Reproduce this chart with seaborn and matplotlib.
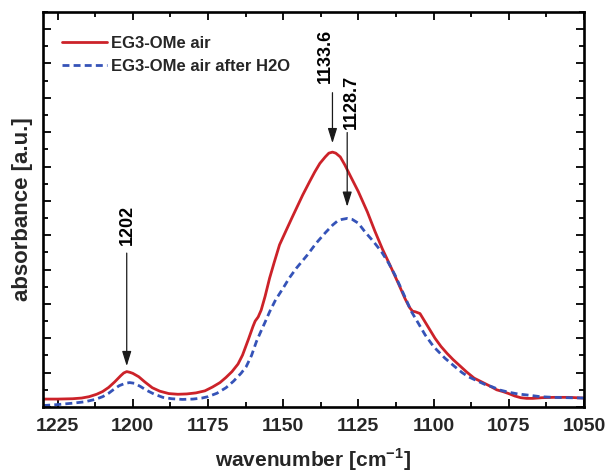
import matplotlib
matplotlib.use("Agg")
import matplotlib.pyplot as plt
from matplotlib.ticker import MultipleLocator, NullFormatter
import pandas as pd
import seaborn as sns

# FTIR spectra of EG3-OMe in air, before and after water exposure
wavenumber_air = [
    1230, 1225, 1220, 1217, 1214.5, 1212, 1210, 1208, 1206, 1204, 1203, 1202,
    1201, 1200, 1198, 1196, 1193.5, 1191, 1188, 1185, 1182, 1179, 1176, 1173.5,
    1171, 1169, 1167, 1165, 1163.5, 1161.5, 1160, 1159.3, 1158.3, 1157.3, 1156,
    1154.5, 1153, 1151.2, 1149, 1147, 1145.6, 1143.5, 1141.2, 1139.5, 1137.8,
    1136, 1134.8, 1133.6, 1132.5, 1131, 1129.5, 1127.5, 1125, 1122, 1119.5,
    1117, 1114, 1111.5, 1109.5, 1108, 1107, 1106, 1104.5, 1102, 1099.5, 1097.5,
    1095.5, 1093.5, 1091.5, 1089, 1086.5, 1084, 1081.5, 1079, 1077, 1075, 1073,
    1071, 1069, 1067, 1064, 1060, 1055, 1050,
]
absorbance_air = [
    0.023, 0.023, 0.024, 0.026, 0.030, 0.037, 0.045, 0.057, 0.073, 0.091, 0.099, 0.103,
    0.101, 0.098, 0.088, 0.073, 0.056, 0.046, 0.039, 0.037, 0.038, 0.041, 0.047, 0.058,
    0.071, 0.086, 0.103, 0.125, 0.151, 0.198, 0.235, 0.250, 0.262, 0.282, 0.322,
    0.375, 0.420, 0.472, 0.514, 0.552, 0.578, 0.617, 0.656, 0.684, 0.709,
    0.728, 0.739, 0.742, 0.739, 0.728, 0.705, 0.670, 0.627, 0.568, 0.512,
    0.460, 0.404, 0.356, 0.316, 0.290, 0.279, 0.277, 0.272, 0.236, 0.200, 0.176,
    0.156, 0.138, 0.122, 0.102, 0.084, 0.073, 0.062, 0.050, 0.045, 0.039, 0.032,
    0.027, 0.025, 0.025, 0.027, 0.028, 0.028, 0.026,
]

wavenumber_h2o = [
    1230, 1225, 1220, 1216, 1212.5, 1210, 1208, 1206.5, 1204.5, 1202.5, 1201,
    1199.5, 1197.5, 1195.5, 1193, 1190, 1187, 1183.5, 1180, 1177, 1175, 1172,
    1169, 1166.5, 1164, 1162.3, 1160.5, 1158.9, 1157.5, 1156, 1154.5, 1152.5,
    1150, 1148, 1145.6, 1142, 1139, 1136, 1133.5, 1132, 1130.5, 1128.7, 1127,
    1125, 1122.8, 1120, 1117.3, 1115, 1112.8, 1110, 1107.3, 1105, 1102.8, 1100,
    1098, 1096.2, 1093, 1090.5, 1088.4, 1085, 1082.5, 1080.6, 1077.8, 1075, 1072,
    1068, 1064.5, 1060, 1055, 1050,
]
absorbance_h2o = [
    0.004, 0.007, 0.011, 0.015, 0.022, 0.030, 0.040, 0.050, 0.062, 0.069, 0.071,
    0.069, 0.060, 0.049, 0.038, 0.028, 0.024, 0.022, 0.023, 0.026, 0.030, 0.040,
    0.056, 0.075, 0.098, 0.117, 0.150, 0.190, 0.218, 0.247, 0.277, 0.312,
    0.346, 0.375, 0.404, 0.442, 0.477, 0.507, 0.530, 0.541, 0.546, 0.549, 0.546,
    0.535, 0.510, 0.482, 0.452, 0.420, 0.384, 0.330, 0.277, 0.243, 0.210, 0.176,
    0.158, 0.142, 0.118, 0.100, 0.088, 0.074, 0.064, 0.059, 0.049, 0.043, 0.038,
    0.034, 0.030, 0.028, 0.027, 0.026,
]

series_labels = ["EG3-OMe air", "EG3-OMe air after H2O"]
peak_positions = [1202, 1133.6, 1128.7]
peak_labels = ["1202", "1133.6", "1128.7"]
x_ticks = [1225, 1200, 1175, 1150, 1125, 1100, 1075, 1050]

sns.set_style("ticks")
plt.rcParams["font.family"] = ["Liberation Sans", "DejaVu Sans"]
plt.rcParams["font.weight"] = "bold"
plt.rcParams["mathtext.fontset"] = "custom"
plt.rcParams["mathtext.rm"] = "Liberation Sans:bold"
plt.rcParams["mathtext.bf"] = "Liberation Sans:bold"

fig = plt.figure(figsize=(6.09, 4.75), dpi=100)
ax = fig.add_axes([0.0698, 0.1432, 0.889, 0.8316])

air = pd.DataFrame({"wavenumber": wavenumber_air, "absorbance": absorbance_air})
h2o = pd.DataFrame({"wavenumber": wavenumber_h2o, "absorbance": absorbance_h2o})

sns.lineplot(data=air, x="wavenumber", y="absorbance", ax=ax, color="#cc2229",
             linewidth=2.0, label=series_labels[0])
sns.lineplot(data=h2o, x="wavenumber", y="absorbance", ax=ax, color="#3553b8",
             linewidth=2.0, linestyle=(0, (2.5, 1.5)), label=series_labels[1])

ax.set_xlim(1230, 1050)
ax.set_ylim(0, 1.15)
ax.set_xticks(x_ticks)
ax.xaxis.set_minor_locator(MultipleLocator(12.5))
ax.yaxis.set_major_locator(MultipleLocator(0.1))
ax.yaxis.set_minor_locator(MultipleLocator(0.05))
ax.yaxis.set_major_formatter(NullFormatter())

for side in ax.spines.values():
    side.set_linewidth(1.9)
    side.set_color("black")
ax.tick_params(which="both", direction="in", top=True, right=True,
               width=1.3, color="black")
ax.tick_params(which="major", length=6, labelsize=14, pad=8)
ax.tick_params(which="minor", length=3.5)
for lbl in ax.get_xticklabels():
    lbl.set_fontweight("bold")

ax.set_xlabel(r"wavenumber [cm$^{-1}$]", fontsize=15, fontweight="bold", labelpad=8)
ax.set_ylabel("absorbance [a.u.]", fontsize=16, fontweight="bold", labelpad=-1)

leg = ax.legend(loc="upper left", bbox_to_anchor=(0.036, 0.94), frameon=False,
                prop={"size": 12, "weight": "bold"}, handlelength=2.7,
                handletextpad=0.25, labelspacing=0.5, borderpad=0, borderaxespad=0)

# peak markers: (arrow start, arrow tip, label x, label y)
marker_layout = [
    (0.448, 0.119, 1201.8, 0.530),
    (0.915, 0.768, 1135.8, 1.023),
    (0.799, 0.583, 1127.2, 0.889),
]
for pos, text, (y0, y1, tx, ty) in zip(peak_positions, peak_labels, marker_layout):
    ax.annotate("", xy=(pos, y1), xytext=(pos, y0),
                arrowprops=dict(arrowstyle="-|>,head_length=0.45,head_width=0.14",
                                color="#1a1a1a", lw=0.9, mutation_scale=20,
                                shrinkA=0, shrinkB=0))
    ax.text(tx, ty, text, rotation=90, ha="center", va="center",
            fontsize=13, fontweight="bold", color="black")

fig.savefig("out.png", dpi=100, facecolor="white")
